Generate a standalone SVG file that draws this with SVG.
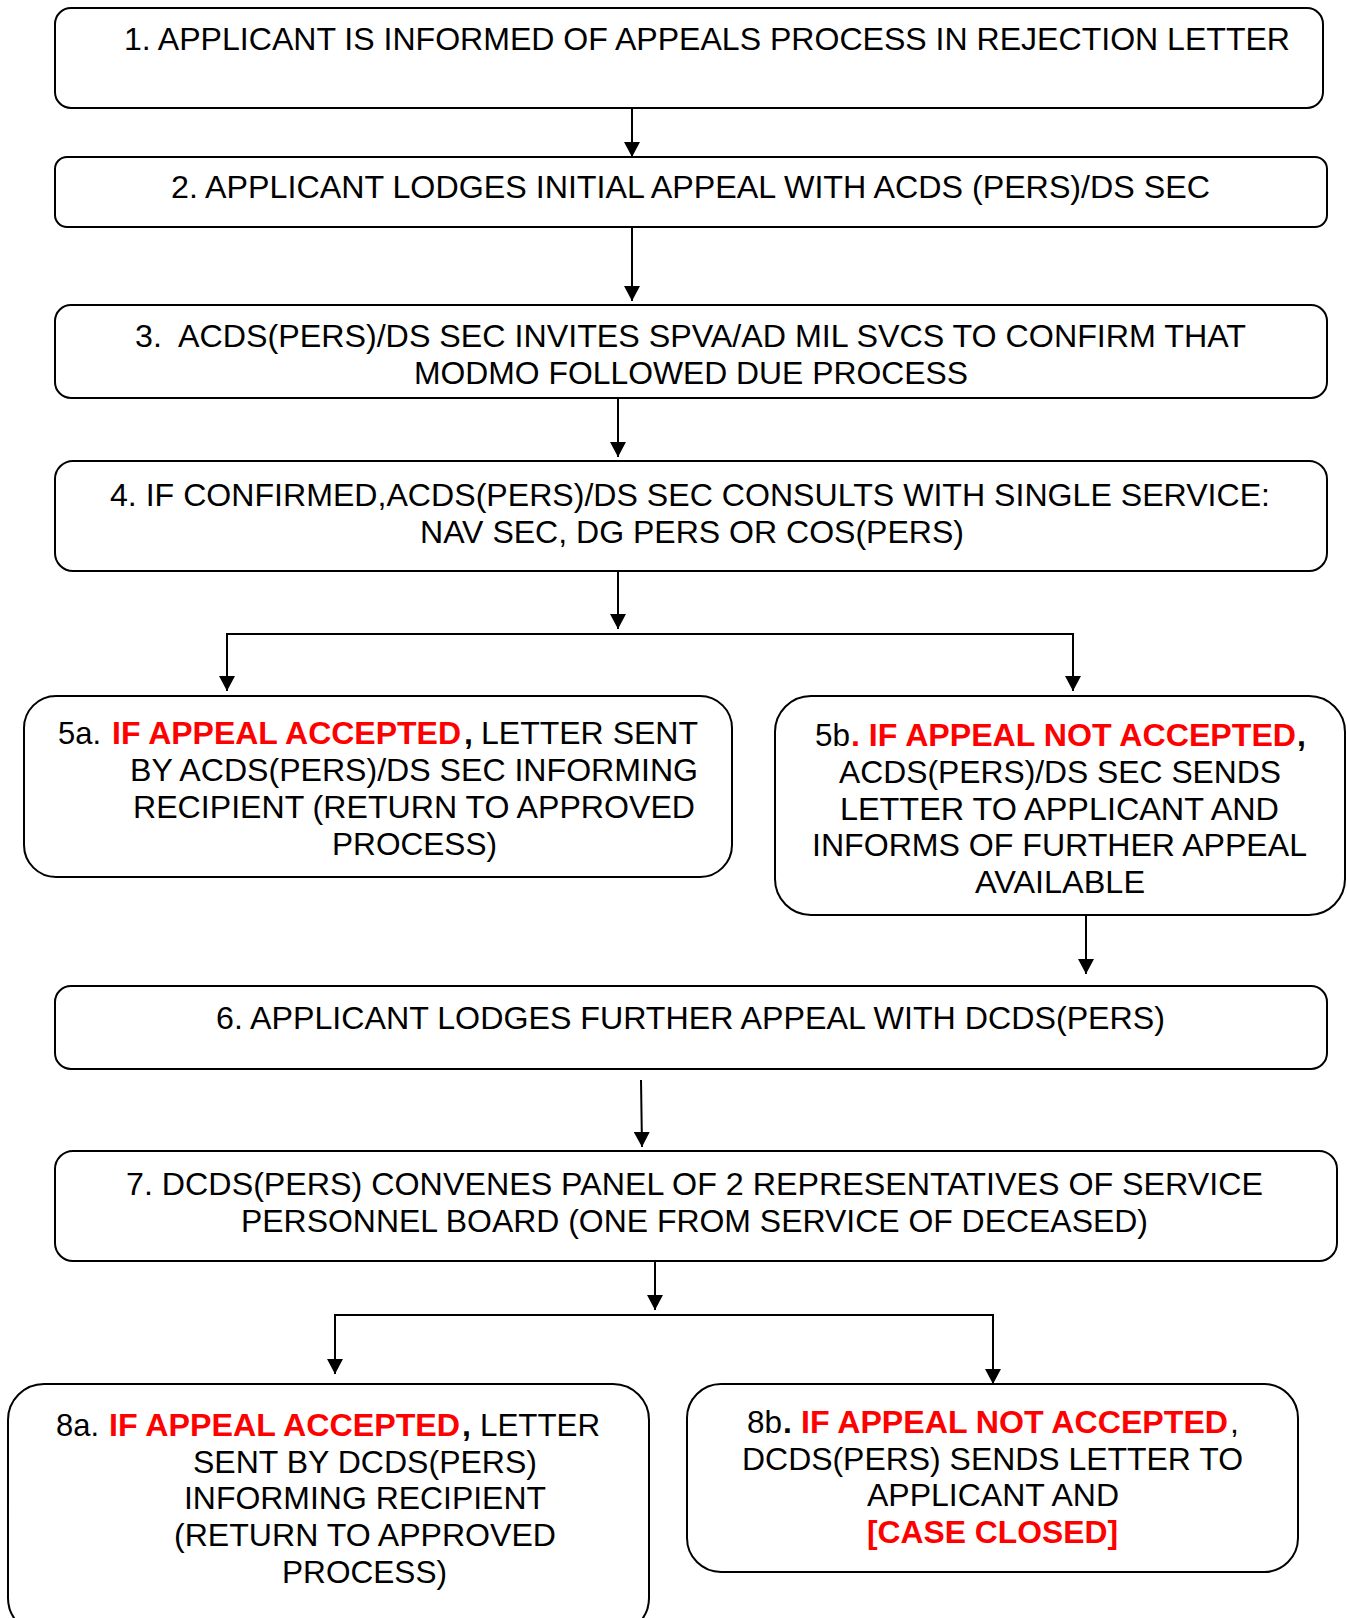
<svg xmlns="http://www.w3.org/2000/svg" width="1347" height="1618" viewBox="0 0 1347 1618">
<style>
.box{fill:#fff;stroke:#000;stroke-width:2}
.t{font-family:"Liberation Sans",Arial,sans-serif;font-size:32px;fill:#000}
.r{fill:#ff0000;font-weight:bold}
.b{font-weight:bold}
.c{fill:none;stroke:#000;stroke-width:2}
</style>
<defs>
<marker id="ah" viewBox="0 0 15 16" refX="15" refY="8" markerWidth="15" markerHeight="16" markerUnits="userSpaceOnUse" orient="auto">
<path d="M0,0 L15,8 L0,16 Z" fill="#000"/>
</marker>
</defs>
<g id="connectors">
<line class="c" x1="632" y1="108" x2="632" y2="157" marker-end="url(#ah)"/>
<line class="c" x1="632" y1="227" x2="632" y2="301" marker-end="url(#ah)"/>
<line class="c" x1="618" y1="398" x2="618" y2="457" marker-end="url(#ah)"/>
<line class="c" x1="618" y1="571" x2="618" y2="629" marker-end="url(#ah)"/>
<polyline class="c" points="227,680 227,634 1073,634 1073,680"/>
<line class="c" x1="227" y1="634" x2="227" y2="691" marker-end="url(#ah)"/>
<line class="c" x1="1073" y1="634" x2="1073" y2="691" marker-end="url(#ah)"/>
<line class="c" x1="1086" y1="915" x2="1086" y2="974" marker-end="url(#ah)"/>
<line class="c" x1="641" y1="1080" x2="642" y2="1147" marker-end="url(#ah)"/>
<line class="c" x1="655" y1="1261" x2="655" y2="1310" marker-end="url(#ah)"/>
<polyline class="c" points="335,1365 335,1315 993,1315 993,1370"/>
<line class="c" x1="335" y1="1315" x2="335" y2="1374" marker-end="url(#ah)"/>
<line class="c" x1="993" y1="1315" x2="993" y2="1384" marker-end="url(#ah)"/>
</g>
<g id="n1">
<rect class="box" x="55" y="8" width="1268" height="100" rx="16"/>
<text class="t" x="124" y="50" textLength="1166" lengthAdjust="spacingAndGlyphs">1. APPLICANT IS INFORMED OF APPEALS PROCESS IN REJECTION LETTER</text>
</g>
<g id="n2">
<rect class="box" x="55" y="157" width="1272" height="70" rx="12"/>
<text class="t" x="171" y="198" textLength="1039" lengthAdjust="spacingAndGlyphs">2. APPLICANT LODGES INITIAL APPEAL WITH ACDS (PERS)/DS SEC</text>
</g>
<g id="n3">
<rect class="box" x="55" y="305" width="1272" height="93" rx="16"/>
<text class="t" x="135" y="347" textLength="1111" lengthAdjust="spacingAndGlyphs" xml:space="preserve">3.  ACDS(PERS)/DS SEC INVITES SPVA/AD MIL SVCS TO CONFIRM THAT</text>
<text class="t" x="414" y="384" textLength="554" lengthAdjust="spacingAndGlyphs">MODMO FOLLOWED DUE PROCESS</text>
</g>
<g id="n4">
<rect class="box" x="55" y="461" width="1272" height="110" rx="18"/>
<text class="t" x="110" y="506" textLength="1160" lengthAdjust="spacingAndGlyphs">4. IF CONFIRMED,ACDS(PERS)/DS SEC CONSULTS WITH SINGLE SERVICE:</text>
<text class="t" x="420" y="543" textLength="544" lengthAdjust="spacingAndGlyphs">NAV SEC, DG PERS OR COS(PERS)</text>
</g>
<g id="n5a">
<rect class="box" x="24" y="696" width="708" height="181" rx="32"/>
<text class="t" y="744"><tspan x="58" textLength="43" lengthAdjust="spacingAndGlyphs">5a.</tspan><tspan class="r" x="112" textLength="349" lengthAdjust="spacingAndGlyphs">IF APPEAL ACCEPTED</tspan><tspan class="b" x="464">,</tspan><tspan x="481" textLength="217" lengthAdjust="spacingAndGlyphs">LETTER SENT</tspan></text>
<text class="t" x="130" y="781" textLength="568" lengthAdjust="spacingAndGlyphs">BY ACDS(PERS)/DS SEC INFORMING</text>
<text class="t" x="133" y="818" textLength="562" lengthAdjust="spacingAndGlyphs">RECIPIENT (RETURN TO APPROVED</text>
<text class="t" x="332" y="855" textLength="165" lengthAdjust="spacingAndGlyphs">PROCESS)</text>
</g>
<g id="n5b">
<rect class="box" x="775" y="696" width="570" height="219" rx="36"/>
<text class="t" y="746"><tspan x="815" textLength="35" lengthAdjust="spacingAndGlyphs">5b</tspan><tspan class="r" x="851" textLength="445" lengthAdjust="spacingAndGlyphs">. IF APPEAL NOT ACCEPTED</tspan><tspan class="b" x="1297">,</tspan></text>
<text class="t" x="839" y="783" textLength="442" lengthAdjust="spacingAndGlyphs">ACDS(PERS)/DS SEC SENDS</text>
<text class="t" x="840" y="820" textLength="439" lengthAdjust="spacingAndGlyphs">LETTER TO APPLICANT AND</text>
<text class="t" x="812" y="856" textLength="495" lengthAdjust="spacingAndGlyphs">INFORMS OF FURTHER APPEAL</text>
<text class="t" x="975" y="893" textLength="170" lengthAdjust="spacingAndGlyphs">AVAILABLE</text>
</g>
<g id="n6">
<rect class="box" x="55" y="986" width="1272" height="83" rx="16"/>
<text class="t" x="216" y="1029" textLength="949" lengthAdjust="spacingAndGlyphs">6. APPLICANT LODGES FURTHER APPEAL WITH DCDS(PERS)</text>
</g>
<g id="n7">
<rect class="box" x="55" y="1151" width="1282" height="110" rx="18"/>
<text class="t" x="126" y="1195" textLength="1137" lengthAdjust="spacingAndGlyphs">7. DCDS(PERS) CONVENES PANEL OF 2 REPRESENTATIVES OF SERVICE</text>
<text class="t" x="241" y="1232" textLength="907" lengthAdjust="spacingAndGlyphs">PERSONNEL BOARD (ONE FROM SERVICE OF DECEASED)</text>
</g>
<g id="n8a">
<rect class="box" x="8" y="1384" width="641" height="250" rx="36"/>
<text class="t" y="1436"><tspan x="56" textLength="43" lengthAdjust="spacingAndGlyphs">8a.</tspan><tspan class="r" x="109" textLength="351" lengthAdjust="spacingAndGlyphs">IF APPEAL ACCEPTED</tspan><tspan class="b" x="462">,</tspan><tspan x="480" textLength="120" lengthAdjust="spacingAndGlyphs">LETTER</tspan></text>
<text class="t" x="193" y="1473" textLength="344" lengthAdjust="spacingAndGlyphs">SENT BY DCDS(PERS)</text>
<text class="t" x="184" y="1509" textLength="362" lengthAdjust="spacingAndGlyphs">INFORMING RECIPIENT</text>
<text class="t" x="174" y="1546" textLength="382" lengthAdjust="spacingAndGlyphs">(RETURN TO APPROVED</text>
<text class="t" x="282" y="1583" textLength="165" lengthAdjust="spacingAndGlyphs">PROCESS)</text>
</g>
<g id="n8b">
<rect class="box" x="687" y="1384" width="611" height="188" rx="34"/>
<text class="t" y="1433"><tspan x="747" textLength="35" lengthAdjust="spacingAndGlyphs">8b</tspan><tspan class="b" x="783">.</tspan><tspan class="r" x="801" textLength="427" lengthAdjust="spacingAndGlyphs">IF APPEAL NOT ACCEPTED</tspan><tspan x="1230">,</tspan></text>
<text class="t" x="742" y="1470" textLength="501" lengthAdjust="spacingAndGlyphs">DCDS(PERS) SENDS LETTER TO</text>
<text class="t" x="867" y="1506" textLength="252" lengthAdjust="spacingAndGlyphs">APPLICANT AND</text>
<text class="t r" x="867" y="1543" textLength="251" lengthAdjust="spacingAndGlyphs">[CASE CLOSED]</text>
</g>
</svg>
